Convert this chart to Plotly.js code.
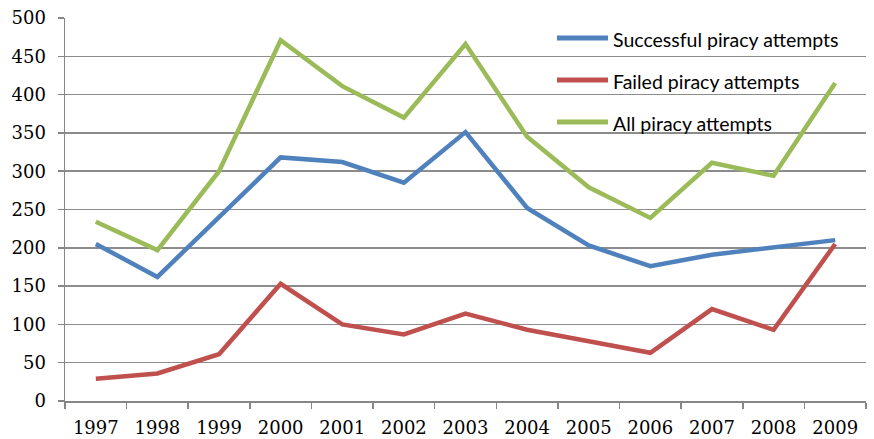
<!DOCTYPE html>
<html>
<head>
<meta charset="utf-8">
<script src="https://cdn.plot.ly/plotly-3.0.1.min.js"></script>
<style>html,body{margin:0;padding:0;background:#fff;}#chart{width:874px;height:439px;}</style>
</head>
<body>
<div id="chart"></div>
<script>
const years = ["1997","1998","1999","2000","2001","2002","2003","2004","2005","2006","2007","2008","2009"];
const successful = [205, 162, 240, 318, 312, 285, 351, 252, 203, 176, 191, 201, 210];
const failed = [29, 36, 61, 153, 100, 87, 114, 93, 78, 63, 120, 93, 205];
const allAttempts = [234, 197, 300, 471, 411, 370, 466, 345, 279, 239, 311, 294, 415];
const seriesNames = ["Successful piracy attempts", "Failed piracy attempts", "All piracy attempts"];
const colors = ["#4F81BD", "#C0504D", "#9BBB59"];
const seriesData = [successful, failed, allAttempts];

const traces = seriesData.map((vals, i) => ({
  type: "scatter",
  mode: "lines",
  x: years,
  y: vals,
  name: seriesNames[i],
  line: {color: colors[i], width: 4.5},
  showlegend: false
}));

// custom legend (Excel-style long line samples)
const plotL = 65, plotR = 866, plotT = 18, plotB = 401;
const px2x = p => (p - plotL) / (plotR - plotL);
const px2y = p => (plotB - p) / (plotB - plotT);
const legendRows = [38, 80, 122];
const shapes = seriesNames.map((n, i) => ({
  type: "line", xref: "paper", yref: "paper",
  x0: px2x(557), x1: px2x(608), y0: px2y(legendRows[i]), y1: px2y(legendRows[i]),
  line: {color: colors[i], width: 5}
}));
const annotations = seriesNames.map((n, i) => ({
  xref: "paper", yref: "paper",
  x: px2x(611), y: px2y(legendRows[i] + 1),
  xanchor: "left", yanchor: "middle",
  text: n, showarrow: false,
  font: {family: "Lato, 'Liberation Sans', sans-serif", size: 19.5, color: "#000"}
}));

const layout = {
  width: 874,
  height: 439,
  margin: {l: 65, r: 8, t: 18, b: 38},
  paper_bgcolor: "#ffffff",
  plot_bgcolor: "#ffffff",
  showlegend: false,
  shapes: shapes,
  annotations: annotations,
  xaxis: {
    type: "category",
    range: [-0.5, 12.5],
    showgrid: false,
    showline: true,
    linecolor: "#868686",
    linewidth: 1.5,
    ticks: "outside",
    tickson: "boundaries",
    ticklen: 6,
    tickcolor: "#868686",
    tickwidth: 1.5,
    ticklabelstandoff: 10,
    tickfont: {family: "'DejaVu Serif', serif", size: 18, color: "#000"},
    zeroline: false
  },
  yaxis: {
    range: [0, 500],
    dtick: 50,
    tick0: 0,
    showgrid: true,
    gridcolor: "#8c8c8c",
    gridwidth: 1.5,
    showline: true,
    linecolor: "#868686",
    linewidth: 1.5,
    ticks: "outside",
    ticklen: 6,
    tickcolor: "#868686",
    tickwidth: 1.5,
    ticklabelstandoff: 8,
    tickfont: {family: "'DejaVu Serif', serif", size: 18, color: "#000"},
    zeroline: false
  }
};

Plotly.newPlot("chart", traces, layout, {displayModeBar: false, staticPlot: true});
</script>
</body>
</html>
